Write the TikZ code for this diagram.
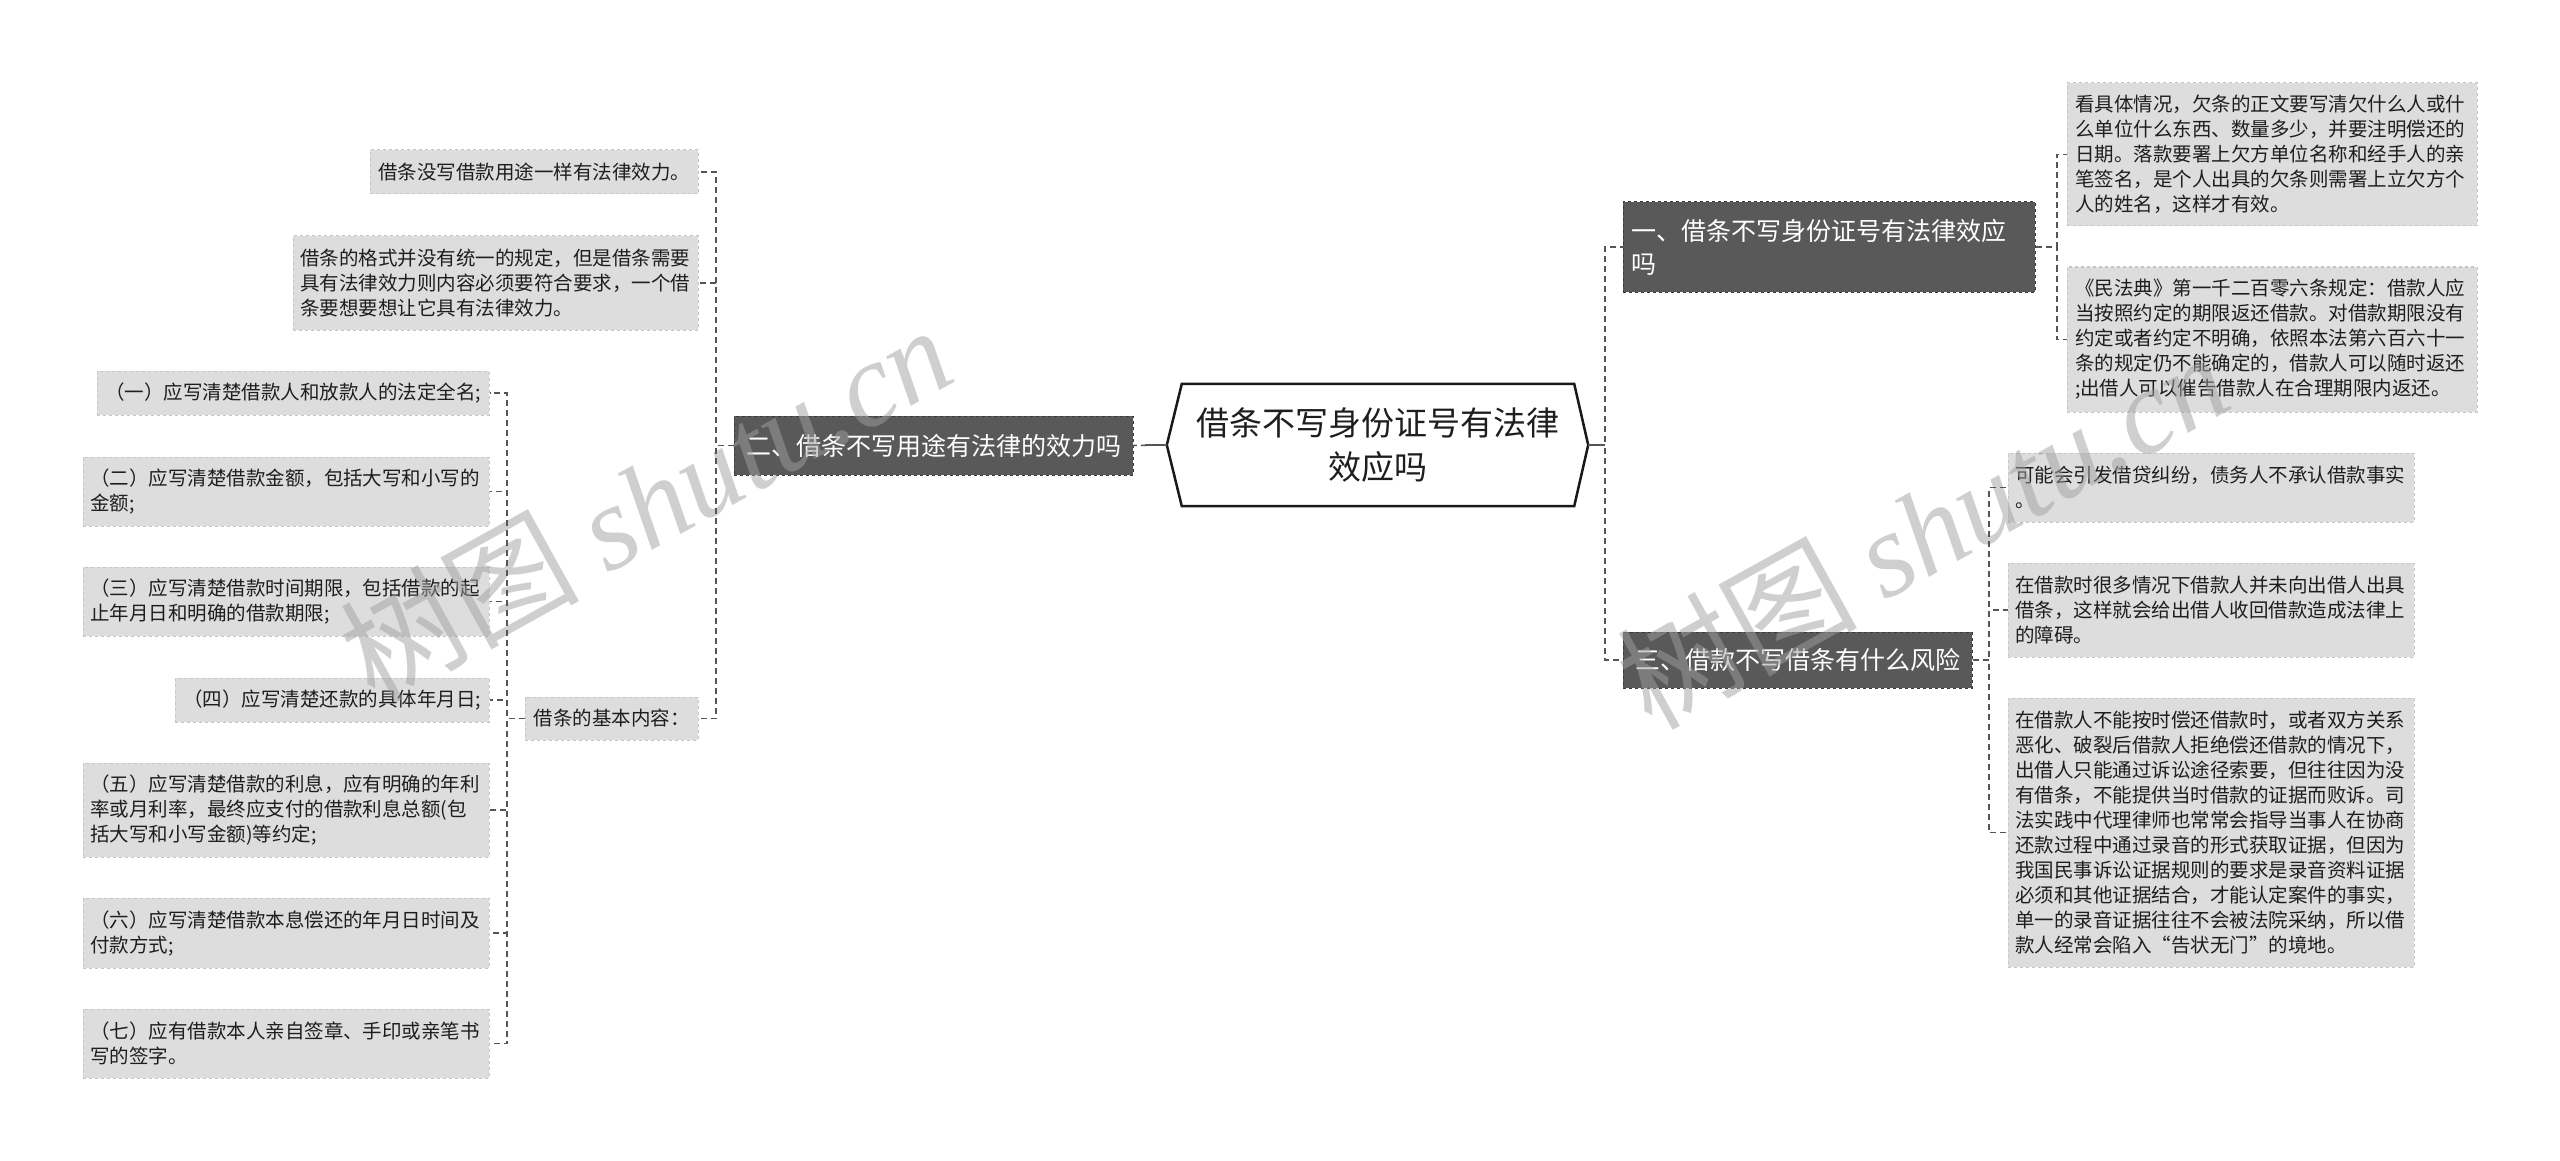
\documentclass[tikz,border=0pt]{standalone}
\usepackage{fontspec}
\setmainfont{Noto Sans CJK SC}
\newfontfamily\wmlat{Liberation Serif}
\usetikzlibrary{calc}
\definecolor{darkbox}{HTML}{595959}
\definecolor{darkedge}{HTML}{3A3A3A}
\definecolor{graybox}{HTML}{DDDDDD}
\definecolor{grayedge}{HTML}{C6C6C6}
\definecolor{lnk}{HTML}{555555}
\definecolor{wmc}{HTML}{A0A0A0}
\definecolor{txt}{HTML}{1E1E1E}
\tikzset{
  darknode/.style={fill=darkbox, draw=darkedge, dashed, line width=1pt, text=white,
    font=\fontsize{25}{33}\selectfont, inner sep=0pt, align=left},
  graynode/.style={fill=graybox, draw=grayedge, dashed, line width=1pt, text=txt,
    font=\fontsize{19.5}{25}\selectfont, inner sep=0pt, align=left},
  conn/.style={draw=lnk, line width=1.5pt, dash pattern=on 6pt off 4pt},
  solidconn/.style={draw=lnk, line width=2.5pt},
  wm/.style={text=wmc, text opacity=0.5, font=\fontsize{120}{125}\selectfont, inner sep=0pt},
  hexnode/.style={inner sep=0pt, align=center, font=\fontsize{33}{44}\selectfont, text=txt}
}
\begin{document}
\begin{tikzpicture}[x=1pt,y=-1pt]
\useasboundingbox[fill=white] (0,0) rectangle (2560,1161);

% central hexagon
\node[inner sep=0pt, minimum width=421pt, minimum height=122pt] (hex) at (1377.5,445) {};
\filldraw[fill=white, draw=black!90, line width=2.5pt, line join=miter] (hex.west) -- ([xshift=15pt]hex.north west) -- ([xshift=-14pt]hex.north east) -- (hex.east) -- ([xshift=-14pt]hex.south east) -- ([xshift=15pt]hex.south west) -- cycle;
\node[hexnode] (hext) at (hex.center) {借条不写身份证号有法律\\效应吗};

% dark (level 1) nodes
\node[darknode, minimum width=412pt, minimum height=90pt, text width=396pt] (r1) at (1829,247) {一、借条不写身份证号有法律效应\\吗};
\node[darknode, minimum width=349pt, minimum height=56pt, align=center] (r3) at (1797.5,660) {三、借款不写借条有什么风险};
\node[darknode, minimum width=399pt, minimum height=59pt, align=center] (l2) at (933.5,445.5) {二、借条不写用途有法律的效力吗};

% right leaves
\node[graynode, minimum width=410pt, minimum height=143pt, text width=394pt] (r1a) at (2272,154.5) {看具体情况，欠条的正文要写清欠什么人或什\\么单位什么东西、数量多少，并要注明偿还的\\日期。落款要署上欠方单位名称和经手人的亲\\笔签名，是个人出具的欠条则需署上立欠方个\\人的姓名，这样才有效。};
\node[graynode, minimum width=410pt, minimum height=145pt, text width=394pt] (r1b) at (2272,339.5) {《民法典》第一千二百零六条规定：借款人应\\当按照约定的期限返还借款。对借款期限没有\\约定或者约定不明确，依照本法第六百六十一\\条的规定仍不能确定的，借款人可以随时返还\\;出借人可以催告借款人在合理期限内返还。};
\node[graynode, minimum width=406pt, minimum height=69pt, text width=392pt] (r3a) at (2211,487.5) {可能会引发借贷纠纷，债务人不承认借款事实\\。};
\node[graynode, minimum width=406pt, minimum height=94pt, text width=392pt] (r3b) at (2211,610) {在借款时很多情况下借款人并未向出借人出具\\借条，这样就会给出借人收回借款造成法律上\\的障碍。};
\node[graynode, minimum width=406pt, minimum height=269pt, text width=392pt] (r3c) at (2211,832.5) {在借款人不能按时偿还借款时，或者双方关系\\恶化、破裂后借款人拒绝偿还借款的情况下，\\出借人只能通过诉讼途径索要，但往往因为没\\有借条，不能提供当时借款的证据而败诉。司\\法实践中代理律师也常常会指导当事人在协商\\还款过程中通过录音的形式获取证据，但因为\\我国民事诉讼证据规则的要求是录音资料证据\\必须和其他证据结合，才能认定案件的事实，\\单一的录音证据往往不会被法院采纳，所以借\\款人经常会陷入“告状无门”的境地。};

% left leaves
\node[graynode, minimum width=328pt, minimum height=44pt, align=center] (l2a) at (534,172) {借条没写借款用途一样有法律效力。};
\node[graynode, minimum width=405pt, minimum height=94pt, text width=391pt] (l2b) at (495.5,283) {借条的格式并没有统一的规定，但是借条需要\\具有法律效力则内容必须要符合要求，一个借\\条要想要想让它具有法律效力。};
\node[graynode, minimum width=173pt, minimum height=43pt, align=center] (l2c) at (611.5,718.5) {借条的基本内容：};
\node[graynode, minimum width=392pt, minimum height=44pt, align=center] (c1) at (293,393) {（一）应写清楚借款人和放款人的法定全名;};
\node[graynode, minimum width=406pt, minimum height=69pt, text width=392pt] (c2) at (286,491.5) {（二）应写清楚借款金额，包括大写和小写的\\金额;};
\node[graynode, minimum width=406pt, minimum height=69pt, text width=392pt] (c3) at (286,601.5) {（三）应写清楚借款时间期限，包括借款的起\\止年月日和明确的借款期限;};
\node[graynode, minimum width=314pt, minimum height=44pt, align=center] (c4) at (332,700) {（四）应写清楚还款的具体年月日;};
\node[graynode, minimum width=406pt, minimum height=94pt, text width=392pt] (c5) at (286,810) {（五）应写清楚借款的利息，应有明确的年利\\率或月利率，最终应支付的借款利息总额(包\\括大写和小写金额)等约定;};
\node[graynode, minimum width=406pt, minimum height=70pt, text width=392pt] (c6) at (286,933) {（六）应写清楚借款本息偿还的年月日时间及\\付款方式;};
\node[graynode, minimum width=406pt, minimum height=69pt, text width=392pt] (c7) at (286,1043.5) {（七）应有借款本人亲自签章、手印或亲笔书\\写的签字。};

% watermarks
\node[wm, rotate=29] (wm1) at (645,502) {树图 {\wmlat\itshape shutu.cn}};
\node[wm, rotate=29] (wm2) at (1922,529) {树图 {\wmlat\itshape shutu.cn}};

% bus coordinates
\coordinate (busR) at (1605,445);
\coordinate (busR1) at (2057,0);
\coordinate (busR3) at (1989,0);
\coordinate (busL2) at (716,0);
\coordinate (busL2c) at (507,0);

% connectors right
\draw[conn] (hex.east) -- (busR) |- (r1.west);
\draw[conn] (hex.east) -- (busR) |- (r3.west);
\draw[solidconn] (hex.east) -- (busR);
\foreach \c in {r1a,r1b}{\draw[conn] (r1.east) -- (busR1 |- r1.east) |- (\c.west);}
\foreach \c in {r3a,r3b,r3c}{\draw[conn] (r3.east) -- (busR3 |- r3.east) |- (\c.west);}

% connectors left
\draw[conn] (hex.west) -- (l2.east);
\draw[solidconn] (hex.west) -- ([xshift=-22pt]hex.west);
\foreach \c in {l2a,l2b,l2c}{\draw[conn] (l2.west) -- (busL2 |- l2.west) |- (\c.east);}
\foreach \c in {c1,c2,c3,c4,c5,c6,c7}{\draw[conn] (l2c.west) -- (busL2c |- l2c.west) |- (\c.east);}
\end{tikzpicture}
\end{document}
